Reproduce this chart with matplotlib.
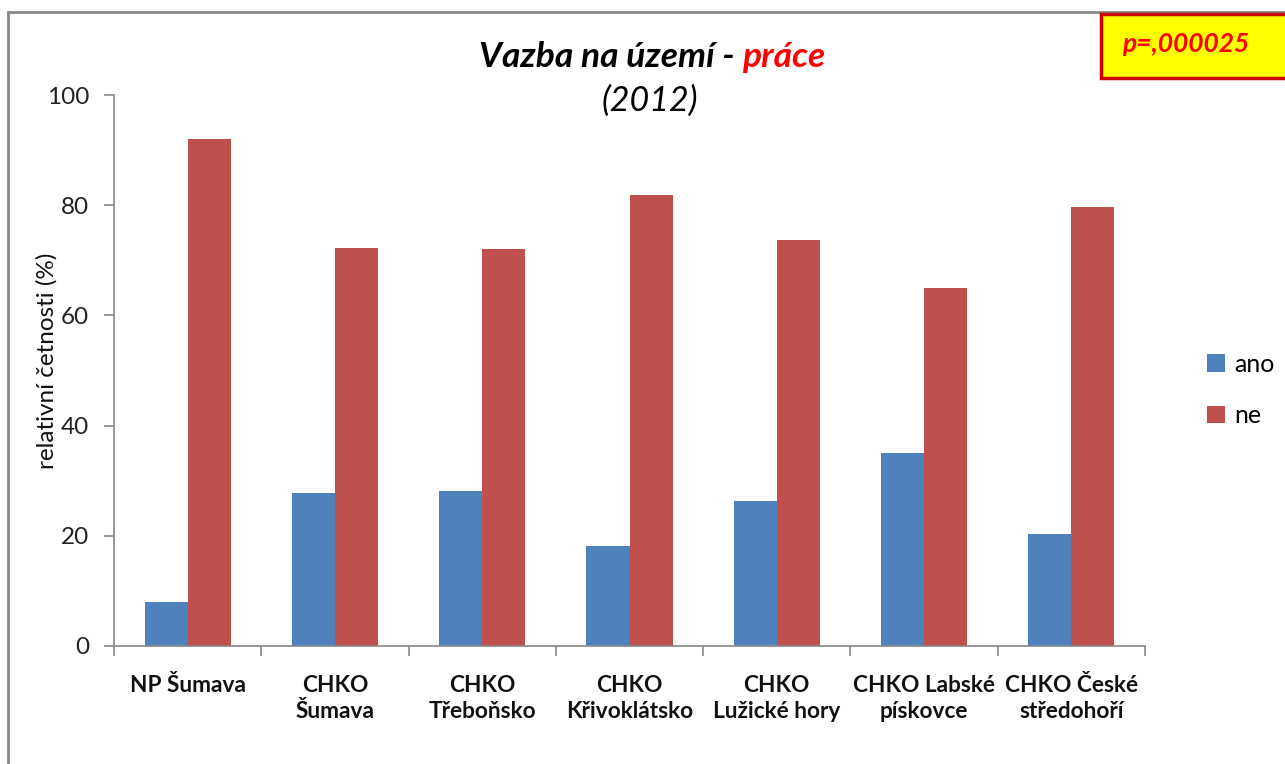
import matplotlib
matplotlib.use("Agg")
import matplotlib.pyplot as plt
import numpy as np
from matplotlib.patches import Rectangle

categories = ["NP Šumava", "CHKO\nŠumava", "CHKO\nTřeboňsko", "CHKO\nKřivoklátsko",
              "CHKO\nLužické hory", "CHKO Labské\npískovce", "CHKO České\nstředohoří"]
ano = [8.0, 27.8, 28.1, 18.1, 26.3, 35.0, 20.3]
ne = [92.0, 72.2, 72.0, 81.9, 73.7, 65.0, 79.7]
series_names = ["ano", "ne"]
yticks = [0, 20, 40, 60, 80, 100]

plt.rcParams['font.family'] = ['Lato', 'DejaVu Sans']

W, H = 1285, 764
fig = plt.figure(figsize=(W / 100, H / 100), dpi=100)
ax = fig.add_axes([114 / W, 1 - 646 / H, (1145 - 114) / W, (646 - 95) / H])

x = np.arange(len(categories))
bw = 0.292
ax.bar(x - bw / 2, ano, bw, color="#4F81BD", label=series_names[0])
ax.bar(x + bw / 2, ne, bw, color="#C0504D", label=series_names[1])

ax.set_xlim(-0.5, len(categories) - 0.5)
ax.set_ylim(0, 100)
ax.set_yticks(yticks)
ax.set_yticklabels([str(v) for v in yticks], fontsize=17.5, color="#222222")
ax.set_xticks(x)
ax.set_xticklabels(categories, fontsize=16.3, fontweight="bold", linespacing=1.3,
                   color="#111111")
ax.tick_params(axis="x", which="major", length=0, pad=21)
ax.set_xticks(np.arange(-0.5, len(categories), 1), minor=True)
ax.tick_params(axis="x", which="minor", length=7, color="#888888", width=1.2)
ax.tick_params(axis="y", length=7, color="#888888", width=1.2, pad=11)
for s in ["top", "right"]:
    ax.spines[s].set_visible(False)
for s in ["left", "bottom"]:
    ax.spines[s].set_color("#888888")
    ax.spines[s].set_linewidth(1.2)
fig.text(47 / W, 1 - 361 / H, "relativní četnosti (%)", fontsize=17.5, rotation=90,
         va="center", ha="center", color="#111111")

leg = ax.legend(loc="center left", bbox_to_anchor=(1207 / W, 1 - 390 / H),
                bbox_transform=fig.transFigure, frameon=False, fontsize=18,
                handlelength=0.7, handleheight=0.7, handletextpad=0.4,
                labelspacing=1.15, borderpad=0, borderaxespad=0)

# chart frame
fig.patches.append(Rectangle((8 / W, -0.1), 1.2, 1 - 12 / H + 0.1, transform=fig.transFigure,
                             fill=False, edgecolor="#888888", linewidth=2))

# title with two colours
fig.canvas.draw()
r = fig.canvas.get_renderer()
ty = 1 - 57 / H
t1 = fig.text(0, ty, "Vazba na území - ", fontsize=25.5, fontweight="bold", fontstyle="italic",
              color="black", va="center", ha="left")
t2 = fig.text(0, ty, "práce", fontsize=25.5, fontweight="bold", fontstyle="italic",
              color="red", va="center", ha="left")
w1 = t1.get_window_extent(r).width
w2 = t2.get_window_extent(r).width
start = 652 - (w1 + w2) / 2
t1.set_x(start / W)
t2.set_x((start + w1) / W)
fig.text(650 / W, 1 - 101 / H, "(2012)", fontsize=24.5, fontstyle="italic", color="black",
         va="center", ha="center")

# p-value box
fig.patches.append(Rectangle((1101 / W, 1 - 78 / H), 0.2, 64 / H, transform=fig.transFigure,
                             facecolor="#FFFF00", edgecolor="#CC0000", linewidth=2.5))
fig.text(1122 / W, 1 - 44 / H, "p=,000025", fontsize=19, fontweight="bold", fontstyle="italic",
         color="red", va="center", ha="left")

fig.savefig("out.png", dpi=100)
